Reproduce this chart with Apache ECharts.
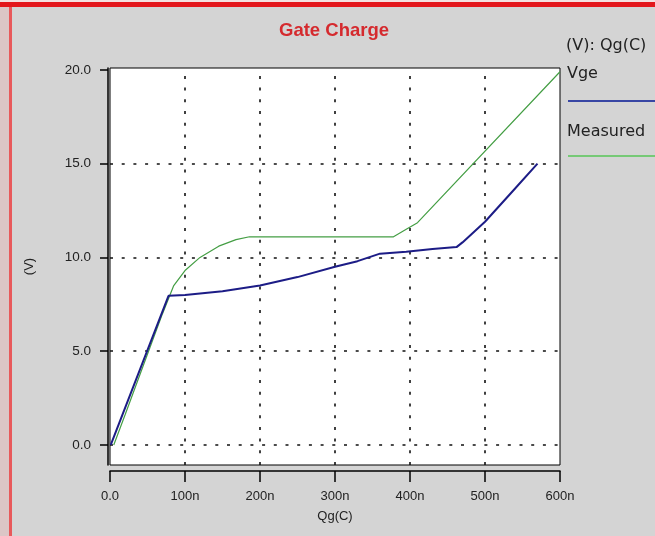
<!DOCTYPE html>
<html>
<head>
<meta charset="utf-8">
<script src="https://cdn.jsdelivr.net/npm/echarts@6/dist/echarts.min.js"></script>
<style>
  html, body { margin: 0; padding: 0; background: #d4d4d4; }
  #chart { width: 655px; height: 536px; }
</style>
</head>
<body>
<div id="chart"></div>
<script>
// Gate charge curve: gate voltage (V) against gate charge Qg (nC)
const chartTitle = 'Gate Charge';
const legendHeader = '(V): Qg(C)';
const seriesNames = ['Vge', 'Measured'];

// Simulated Vge curve
const qgVge = [1, 78, 100, 150, 200, 250, 300, 330, 360, 395, 430, 462, 470, 500, 535, 570];
const vge   = [0, 7.95, 8.0, 8.2, 8.5, 8.95, 9.5, 9.8, 10.2, 10.3, 10.45, 10.55, 10.8, 11.9, 13.45, 15.0];

// Measured curve
const qgMeas = [5, 20, 45, 70, 85, 100, 120, 145, 168, 186, 378, 395, 410, 600];
const meas   = [0, 1.6, 4.3, 7.0, 8.5, 9.3, 10.0, 10.6, 10.95, 11.1, 11.1, 11.5, 11.85, 19.9];

// Axis ticks
const xTicks = [0, 100, 200, 300, 400, 500, 600];
const yTicks = [0, 5, 10, 15, 20];

const pairs = (xs, ys) => xs.map((x, i) => [x, ys[i]]);

const gridDots = { color: '#111', width: 1.6, type: [3, 8.7] };
const gridLines = []
  .concat(yTicks.slice(0, -1).map(v => ({ yAxis: v })))
  .concat(xTicks.slice(1, -1).map(v => ({ xAxis: v })));

const lineBlue = '#1c1c86';
const lineGreen = '#449e44';
const legendBlue = '#3846a4';
const legendGreen = '#76c976';
const legendFont = '16px DejaVu Sans, Verdana, sans-serif';

const chart = echarts.init(document.getElementById('chart'), null, { renderer: 'canvas' });

chart.setOption({
  animation: false,
  backgroundColor: '#d4d4d4',
  textStyle: { fontFamily: 'Liberation Sans, Arial, sans-serif' },
  title: {
    text: chartTitle,
    left: 329, top: 16, textAlign: 'center',
    textStyle: { color: '#d52a2e', fontSize: 18.5, fontWeight: 'bold', fontFamily: 'Liberation Sans, Arial, sans-serif' }
  },
  grid: {
    left: 110, right: 95, top: 68, bottom: 71,
    show: true, backgroundColor: '#ffffff', borderColor: '#000', borderWidth: 1
  },
  xAxis: {
    type: 'value', min: 0, max: 600, interval: 100,
    offset: 6,
    name: 'Qg(C)', nameLocation: 'middle', nameGap: 39,
    nameTextStyle: { color: '#222', fontSize: 13 },
    axisLine: { show: true, onZero: false, lineStyle: { color: '#000', width: 1.5 } },
    axisTick: { show: true, length: 11, lineStyle: { color: '#000', width: 1.5 } },
    axisLabel: {
      color: '#222', fontSize: 13, margin: 19,
      formatter: v => v === 0 ? '0.0' : v + 'n'
    },
    splitLine: { show: false }
  },
  yAxis: {
    type: 'value', min: -1.07, max: 20.1,
    offset: 2,
    name: '(V)', nameLocation: 'middle', nameGap: 72, nameRotate: 90,
    nameTextStyle: { color: '#222', fontSize: 13 },
    axisLine: { show: true, onZero: false, lineStyle: { color: '#000', width: 1.5 } },
    axisTick: { show: true, length: 8, customValues: yTicks, lineStyle: { color: '#000', width: 1.5 } },
    axisLabel: {
      color: '#222', fontSize: 13.5, margin: 17, customValues: yTicks,
      formatter: v => v.toFixed(1)
    },
    splitLine: { show: false }
  },
  graphic: [
    // window frame
    { type: 'rect', shape: { x: 0, y: 0, width: 655, height: 2 }, style: { fill: '#f4e0e0' }, silent: true },
    { type: 'rect', shape: { x: 0, y: 2, width: 655, height: 5 }, style: { fill: '#e3161b' }, silent: true },
    { type: 'rect', shape: { x: 0, y: 7, width: 9, height: 529 }, style: { fill: '#dcc6c6' }, silent: true },
    { type: 'rect', shape: { x: 9, y: 7, width: 3, height: 529 }, style: { fill: '#e8595b' }, silent: true },
    // legend block
    { type: 'text', left: 566, top: 38, style: { text: legendHeader, fill: '#222', font: legendFont } },
    { type: 'text', left: 567, top: 66, style: { text: seriesNames[0], fill: '#222', font: legendFont } },
    { type: 'line', shape: { x1: 568, y1: 101, x2: 655, y2: 101 }, style: { stroke: legendBlue, lineWidth: 2 } },
    { type: 'text', left: 567, top: 124, style: { text: seriesNames[1], fill: '#222', font: legendFont } },
    { type: 'line', shape: { x1: 568, y1: 156, x2: 655, y2: 156 }, style: { stroke: legendGreen, lineWidth: 2 } }
  ],
  series: [
    {
      name: seriesNames[1], type: 'line', data: pairs(qgMeas, meas),
      showSymbol: false, z: 3,
      lineStyle: { color: lineGreen, width: 1.2 },
      markLine: {
        silent: true, symbol: 'none', label: { show: false },
        lineStyle: gridDots, data: gridLines, z: 1
      }
    },
    {
      name: seriesNames[0], type: 'line', data: pairs(qgVge, vge),
      showSymbol: false, z: 4,
      lineStyle: { color: lineBlue, width: 2 }
    }
  ]
});
</script>
</body>
</html>
